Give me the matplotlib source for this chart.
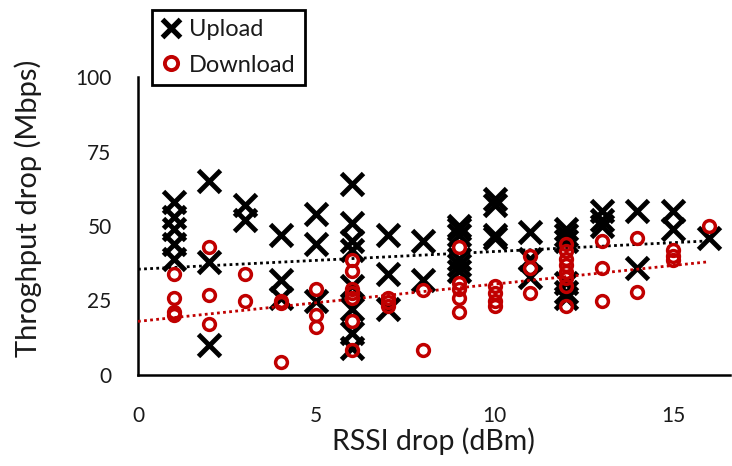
import numpy as np
import matplotlib.pyplot as plt
from matplotlib.lines import Line2D

plt.rcParams['font.family'] = ['Lato', 'DejaVu Sans']

# RSSI drop (dBm) -> throughput drop (Mbps)
up_x = [1, 1, 1, 1, 1, 2, 2, 2, 3, 3, 4, 4, 4, 5, 5, 5,
        6, 6, 6, 6, 6, 6, 6, 6, 7, 7, 7, 8, 8,
        9, 9, 9, 9, 9, 9, 10, 10, 10, 10, 11, 11, 11,
        12, 12, 12, 12, 12, 12, 13, 13, 13, 14, 14, 15, 15, 16]
up_y = [58, 53, 49, 44, 39, 65, 38, 10, 57, 52, 47, 32, 26, 54, 44, 25,
        64, 51, 45, 42, 30, 22, 14, 9, 47, 34, 22, 45, 32,
        50, 49, 47, 39, 37, 35, 59, 57, 47, 46, 48, 39, 33,
        49, 47, 45, 31, 28, 26, 55, 52, 50, 55, 36, 55, 49, 46]

down_x = [1, 1, 1, 1, 2, 2, 2, 3, 3, 4, 4, 4, 5, 5, 5,
          6, 6, 6, 6, 6, 6, 6, 7, 7, 7, 8, 8,
          9, 9, 9, 9, 9, 10, 10, 10, 10, 11, 11, 11,
          12, 12, 12, 12, 12, 12, 12, 12, 13, 13, 13, 14, 14, 15, 15, 15, 16]
down_y = [34, 26, 21, 20, 43, 27, 17, 34, 25, 25, 24, 4.5, 29, 20, 16,
          38.5, 35, 29, 27.5, 26, 18, 8.5, 26, 24.5, 23, 28.5, 8.5,
          43, 31, 29, 26, 21, 30, 27.5, 25, 23, 40, 36, 27.5,
          44, 41.5, 39, 37, 34.5, 32.5, 30, 23, 45, 36, 25, 46, 28, 42, 40, 38.5, 50]

# trendline ends as drawn in the original (x = 0 and x = 16)
trend_x = [0, 16]
up_trend = [35.5, 45]
down_trend = [18, 38]

red = '#C00000'
txt = '#1a1a1a'

fig = plt.figure(figsize=(7.32, 4.66), dpi=100)
ax = fig.add_axes([138/732, 91/466, 592/732, 298/466])

ax.plot(trend_x, up_trend, color='black', lw=2, dashes=(1, 1.2), zorder=3)
ax.plot(trend_x, down_trend, color=red, lw=2, dashes=(1, 1.2), zorder=3)

ax.plot(up_x, up_y, 'x', color='black', ms=16, mew=3.5, zorder=2)
ax.plot(down_x, down_y, 'o', mfc='none', mec=red, ms=8.5, mew=2.5, zorder=4)

ax.set_xlim(0, 16.6)
ax.set_ylim(0, 100)
ax.set_xticks([0, 5, 10, 15])
ax.set_yticks([0, 25, 50, 75, 100])
ax.tick_params(length=0, labelsize=15, labelcolor=txt)
ax.tick_params(axis='x', pad=22)
ax.tick_params(axis='y', pad=19)
for s in ['top', 'right']:
    ax.spines[s].set_visible(False)
for s in ['left', 'bottom']:
    ax.spines[s].set_linewidth(1.8)

fig.text(433/732, 1 - 441/466, 'RSSI drop (dBm)', ha='center', va='center',
         fontsize=20.5, color=txt)
fig.text(28/732, 1 - 208/466, 'Throghput drop (Mbps)', ha='center', va='center',
         rotation=90, fontsize=21, color=txt)

handles = [Line2D([], [], ls='none', marker='x', color='black', ms=13, mew=3.8),
           Line2D([], [], ls='none', marker='o', mfc='none', mec=red, ms=9.5, mew=2.8)]
leg = fig.legend(handles, ['Upload', 'Download'], loc='upper left',
                 bbox_to_anchor=(152/732, 1 - 10/466), borderaxespad=0,
                 fontsize=17, frameon=True, fancybox=False, framealpha=1,
                 edgecolor='black', handlelength=0.8, handletextpad=0.35,
                 labelspacing=0.6, borderpad=0.4)
leg.get_frame().set_linewidth(2)
for t in leg.get_texts():
    t.set_color(txt)

fig.savefig('out.png', dpi=100)
